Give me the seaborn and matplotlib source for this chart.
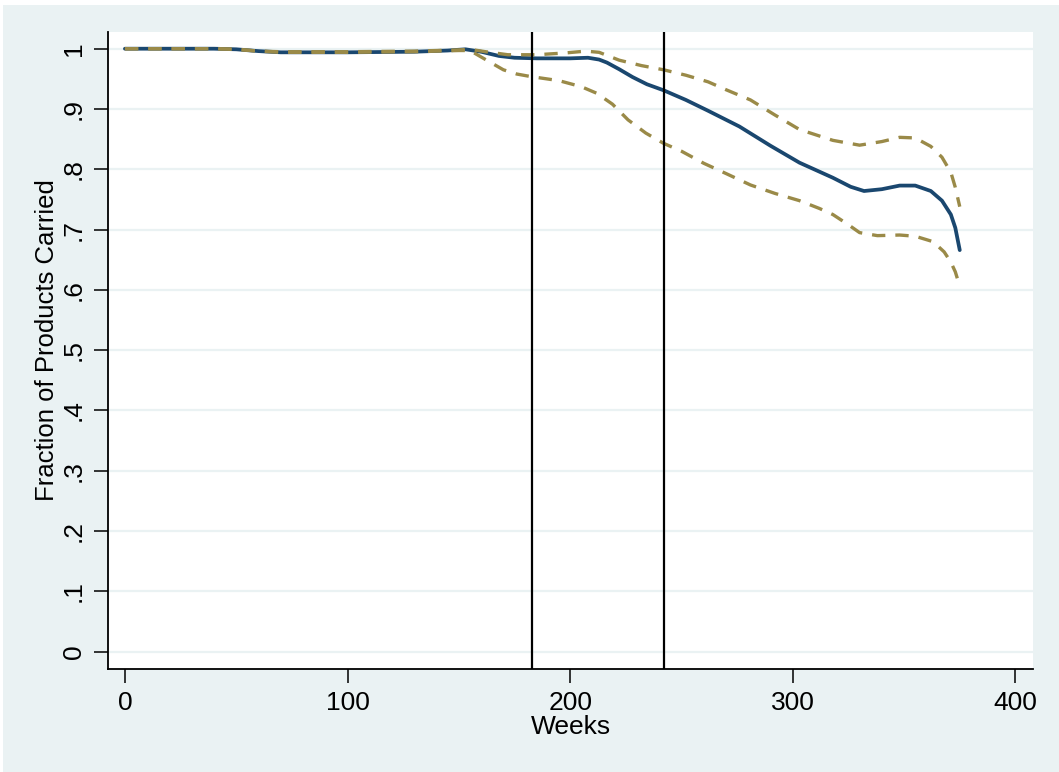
import matplotlib
matplotlib.use("Agg")
import matplotlib.pyplot as plt
import seaborn as sns
import numpy as np
import pandas as pd
from matplotlib.patches import Rectangle

# Estimated fraction of products still carried, by week, with confidence band
weeks_fit = [0, 20, 40, 50, 60, 70, 100, 130, 145, 153, 160, 168, 175, 185, 200, 208,
             213, 216.5, 222, 228, 234.5, 242, 252, 262, 276, 290, 303, 318, 326, 332,
             340, 348, 355, 362, 367, 371, 373, 375]
fraction_fit = [1.0, 1.0, 1.0, 0.999, 0.996, 0.994, 0.994, 0.995, 0.997, 0.999, 0.995,
                0.988, 0.985, 0.984, 0.984, 0.985, 0.982, 0.977, 0.966, 0.953, 0.941,
                0.931, 0.915, 0.897, 0.871, 0.839, 0.811, 0.786, 0.771, 0.764, 0.767,
                0.773, 0.773, 0.764, 0.748, 0.725, 0.703, 0.666]

weeks_upper = [0, 20, 40, 50, 60, 70, 100, 130, 150, 155, 162, 172, 185, 198, 207, 213,
               222, 232, 242, 252, 262, 270, 281, 292, 303, 318, 330, 340, 348, 355,
               362, 367, 371, 373, 375]
fraction_upper = [1.0, 1.0, 1.0, 0.999, 0.996, 0.995, 0.995, 0.996, 0.998, 0.999, 0.995,
                  0.990, 0.990, 0.993, 0.996, 0.994, 0.981, 0.972, 0.965, 0.956, 0.945,
                  0.932, 0.915, 0.890, 0.866, 0.848, 0.840, 0.846, 0.853, 0.852, 0.838,
                  0.820, 0.795, 0.770, 0.738]

weeks_lower = [0, 20, 40, 50, 60, 70, 100, 130, 150, 155, 162, 170, 176, 182, 195, 205,
               212, 219, 226, 234, 242, 250, 260, 270, 281, 292, 303, 312, 318, 325,
               330, 338, 348, 355, 363, 368, 371, 373, 374.5]
fraction_lower = [1.0, 1.0, 1.0, 0.999, 0.996, 0.994, 0.994, 0.995, 0.997, 0.997, 0.982,
                  0.965, 0.958, 0.954, 0.947, 0.937, 0.926, 0.908, 0.882, 0.860, 0.843,
                  0.830, 0.810, 0.793, 0.774, 0.760, 0.748, 0.735, 0.725, 0.708, 0.695,
                  0.690, 0.691, 0.689, 0.680, 0.663, 0.646, 0.630, 0.612]

# Policy change weeks
event_weeks = [183, 242]

x_ticks = [0, 100, 200, 300, 400]
y_ticks = [0, 0.1, 0.2, 0.3, 0.4, 0.5, 0.6, 0.7, 0.8, 0.9, 1.0]
y_tick_labels = ["0", ".1", ".2", ".3", ".4", ".5", ".6", ".7", ".8", ".9", "1"]

NAVY = "#1A476F"
KHAKI = "#9A8A48"
BG = "#EAF2F3"

sns.set_theme(style="white")
plt.rcParams["font.family"] = ["Liberation Sans", "DejaVu Sans"]

fig = plt.figure(figsize=(10.59, 7.72), dpi=100, facecolor="white")
fig.patches.append(Rectangle((3 / 1059, 0), 1 - 3 / 1059, 1 - 5 / 772,
                             transform=fig.transFigure, facecolor=BG,
                             edgecolor="none", zorder=-10))
ax = fig.add_axes([108 / 1059, 103 / 772, (1033 - 108) / 1059, (669 - 32) / 772])
ax.set_facecolor("white")

for yt in y_ticks:
    ax.axhline(yt, color=BG, lw=1.6, zorder=1)

df_fit = pd.DataFrame({"week": weeks_fit, "frac": fraction_fit})
df_up = pd.DataFrame({"week": weeks_upper, "frac": fraction_upper})
df_lo = pd.DataFrame({"week": weeks_lower, "frac": fraction_lower})

sns.lineplot(data=df_fit, x="week", y="frac", ax=ax, color=NAVY, lw=2.7,
             estimator=None, zorder=3)
for d in (df_up, df_lo):
    sns.lineplot(data=d, x="week", y="frac", ax=ax, color=KHAKI, lw=2.4,
                 estimator=None, zorder=4, linestyle=(0, (4, 3)))

for w in event_weeks:
    ax.axvline(w, color="black", lw=1.6, zorder=5)

ax.set_xlim(-7.6, 407.9)
ax.set_ylim(-0.0287, 1.0277)
ax.set_xticks(x_ticks)
ax.set_xticklabels([str(t) for t in x_ticks])
ax.set_yticks(y_ticks)
ax.set_yticklabels(y_tick_labels, rotation=90, va="center")

for s in ("top", "right"):
    ax.spines[s].set_visible(False)
for s in ("left", "bottom"):
    ax.spines[s].set_color("black")
    ax.spines[s].set_linewidth(1.3)

ax.tick_params(axis="both", which="major", direction="out", length=10, width=1.1,
               color="black", labelsize=19, labelcolor="black", pad=6,
               left=True, bottom=True)
ax.set_xlabel("Weeks", fontsize=19, color="black", labelpad=0)
ax.set_ylabel("Fraction of Products Carried", fontsize=18.5, color="black")
ax.yaxis.set_label_coords(-0.053, 0.516)

fig.savefig("out.png", dpi=100, facecolor=fig.get_facecolor())
